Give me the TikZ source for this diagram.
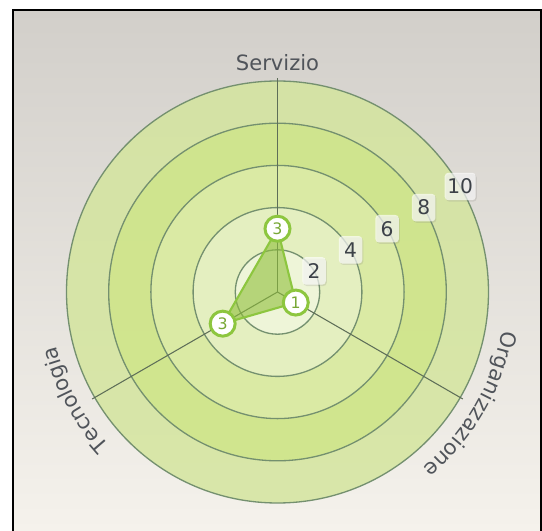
\documentclass[tikz,border=0pt]{standalone}
\usepackage{fontspec}
\setmainfont{DejaVu Sans}
\usepackage{tikz}
\usetikzlibrary{decorations.text,shadows,calc}
\definecolor{bgtop}{HTML}{D2CFCA}
\definecolor{bgbot}{HTML}{F5F2EC}
\definecolor{bandten}{HTML}{D4E59E}
\definecolor{bandeight}{HTML}{CFE58A}
\definecolor{bandsix}{HTML}{DCECA8}
\definecolor{bandfour}{HTML}{E6F1C6}
\definecolor{bandtwo}{HTML}{F0F7DD}
\definecolor{ringline}{HTML}{74906F}
\definecolor{spokeline}{HTML}{5E6E58}
\definecolor{datagreen}{HTML}{8DC63F}
\definecolor{datafill}{HTML}{8FBF3A}
\definecolor{lbltext}{HTML}{50545A}
\definecolor{scaletext}{HTML}{3C4148}
\newcommand\axisfont{\fontsize{12}{14}\selectfont}

\begin{document}
\begin{tikzpicture}[
    x=0.02cm, y=0.02cm,
    band/.style={fill=#1, fill opacity=0.85},
    ring/.style={draw=ringline, line width=0.75pt},
    spoke/.style={draw=spokeline, line width=0.6pt},
    axislbl/.style={text=lbltext, font=\axisfont, inner sep=0pt, anchor=base},
    curvedlbl/.style={decorate, decoration={text along path, text align=center, text color=lbltext, text={|\axisfont|#1}}},
    datapoly/.style={draw=datagreen, line width=1.2pt, fill=datafill, fill opacity=0.6, line join=round},
    marker/.style={circle, draw=datagreen, line width=1.7pt, fill=white, minimum size=0.5cm, inner sep=0pt, text=datagreen!85!black, font=\fontsize{9}{9}\selectfont},
    scalebox/.style={rectangle, rounded corners=2pt, fill=white, fill opacity=0.65, text opacity=1, text=scaletext, font=\fontsize{11.5}{12}\selectfont, minimum width=0.47cm, minimum height=0.55cm, inner sep=1.5pt, drop shadow={opacity=0.2, shadow xshift=0.6pt, shadow yshift=-0.8pt}}
]
    \useasboundingbox (-277.5,-239) rectangle (264.5,292);
    \fill[white] (-277.5,-239) rectangle (264.5,292);
    \shade[top color=bgtop, bottom color=bgbot] (-264.5,-239) rectangle (263.5,281.7);
    \draw[line width=1.3pt] (-264.5,-239) -- (-264.5,281.7) -- (263.5,281.7) -- (263.5,-239);

    \coordinate (c) at (0,0);
    \foreach \r/\col in {5/bandten, 4/bandeight, 3/bandsix, 2/bandfour, 1/bandtwo}
        \fill[band=\col] (c) circle[radius=\r*42.2];
    \foreach \r in {1,...,5}
        \draw[ring] (c) circle[radius=\r*42.2];

    \foreach \a/\n in {90/serv, -30/org, 210/tec} {
        \coordinate (end-\n) at (\a:214);
        \draw[spoke] (c) -- (end-\n);
    }

    \coordinate (p-serv) at (90:63.3);
    \coordinate (p-org) at (-30:21.1);
    \coordinate (p-tec) at (210:63.3);
    \draw[datapoly] (p-serv) -- (p-org) -- (p-tec) -- cycle;
    \node[marker] (m-serv) at (p-serv) {3};
    \node[marker] (m-org) at (p-org) {1};
    \node[marker] (m-tec) at (p-tec) {3};

    \foreach \v in {2,4,...,10}
        \node[scalebox] (s\v) at ({30}:{\v*21.1}) {\v};

    \node[axislbl] (servizio) at (0,221) {Servizio};
    \path[curvedlbl=Organizzazione] (20:228) arc[start angle=20, end angle=-80, radius=228];
    \path[curvedlbl=Tecnologia] (258:228) arc[start angle=258, end angle=158, radius=228];
\end{tikzpicture}
\end{document}
